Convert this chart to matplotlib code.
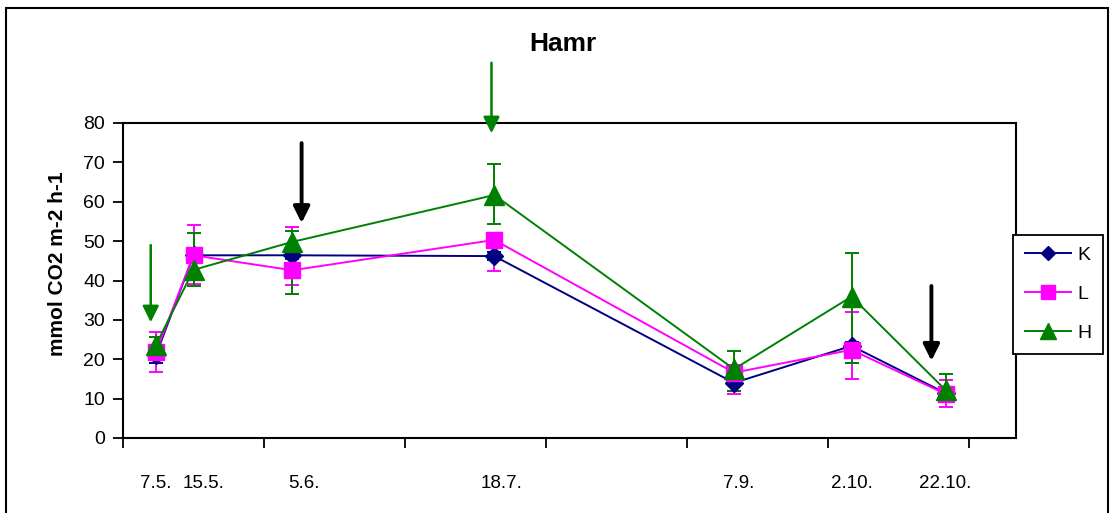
import datetime
import matplotlib
matplotlib.use('Agg')
import matplotlib.pyplot as plt
from matplotlib.patches import Rectangle

plt.rcParams['font.family'] = ['Liberation Sans', 'DejaVu Sans']

# sampling dates (day, month) and their labels
dates = [(7, 5), (15, 5), (5, 6), (18, 7), (7, 9), (2, 10), (22, 10)]
date_labels = ['7.5.', '15.5.', '5.6.', '18.7.', '7.9.', '2.10.', '22.10.']

# flux values, mmol CO2 m-2 h-1
K = [21.0, 46.4, 46.4, 46.2, 14.0, 23.4, 11.4]
L = [21.8, 46.4, 42.6, 50.3, 16.6, 22.4, 11.2]
H = [23.6, 42.7, 49.8, 61.7, 17.5, 35.9, 12.2]

# error bars (minus, plus)
K_err = [[2.0, 1.0, 1.0, 1.0, 2.0, 4.4, 1.5], [2.0, 1.0, 1.0, 1.0, 2.0, 1.0, 1.5]]
L_err = [[5.0, 7.4, 3.8, 8.0, 5.5, 7.5, 3.2], [5.0, 7.6, 10.9, 1.5, 2.0, 9.5, 3.6]]
H_err = [[2.0, 4.1, 13.3, 7.4, 5.5, 16.8, 2.0], [2.0, 9.4, 2.8, 7.8, 4.5, 11.1, 4.0]]

doy = [datetime.date(2005, m, d).timetuple().tm_yday for d, m in dates]

fig = plt.figure(figsize=(11.10, 5.13), dpi=100)
ax = fig.add_axes([123 / 1110, 75 / 513, 893 / 1110, 315 / 513])

series = [('K', K, K_err, '#000080', 'D', 9.5),
          ('L', L, L_err, '#FF00FF', 's', 12),
          ('H', H, H_err, '#008000', '^', 14)]
handles = []
for name, vals, err, col, mk, ms in series:
    c = ax.errorbar(doy, vals, yerr=err, color=col, marker=mk, markersize=ms,
                    lw=1.4, elinewidth=1.4, capsize=4.7, capthick=1.4)
    c.lines[0].set_label(name)
    handles.append(c.lines[0])

ax.set_xlim(120, 310)
ax.set_ylim(0, 80)
ax.set_yticks(range(0, 81, 10))
ax.set_xticks(range(120, 301, 30))
ax.set_xticklabels([])
label_pos = [127, 137.2, 158.5, 200.5, 251, 275, 295]
ax.set_xticks(label_pos, minor=True)
ax.set_xticklabels(date_labels, minor=True)
ax.tick_params(axis='x', which='minor', length=0, pad=27, labelsize=13.5)
ax.tick_params(axis='x', which='major', direction='out', length=7, width=1.3)
ax.tick_params(axis='y', direction='out', length=7, width=1.3, pad=6, labelsize=14)
for sp in ax.spines.values():
    sp.set_linewidth(1.5)

ax.set_ylabel('mmol CO2 m-2 h-1', fontsize=15, fontweight='bold')
ax.yaxis.set_label_coords(-0.063, 0.552)
fig.text(563 / 1110, 1 - 44 / 513, 'Hamr', fontsize=19, fontweight='bold',
         ha='center', va='center')

# arrows marking events
arrows = [(125.9, 49, 29.4, '#008000', 1.8),
          (158.0, 74.9, 54.6, 'black', 2.8),
          (198.4, 95.3, 77.4, '#008000', 1.8),
          (292.0, 38.6, 19.6, 'black', 2.8)]
for x, y0, y1, col, lw in arrows:
    ax.annotate('', xy=(x, y1), xytext=(x, y0), annotation_clip=False,
                arrowprops=dict(arrowstyle='-|>,head_length=0.7,head_width=0.35',
                                mutation_scale=14, lw=lw, color=col,
                                shrinkA=0, shrinkB=0))

leg = ax.legend(handles=handles, loc='upper left',
                bbox_to_anchor=(1013 / 1110, 1 - 235 / 513),
                bbox_transform=fig.transFigure, fontsize=14, frameon=True,
                fancybox=False, edgecolor='black', framealpha=1,
                handlelength=2.4, handletextpad=0.3, labelspacing=1.1,
                borderpad=0.6, borderaxespad=0, markerscale=0.8)
leg.get_frame().set_linewidth(1.3)
leg.set_zorder(5)

fig.patches.append(Rectangle((6 / 1110, -0.1), 1102 / 1110, 1.1 - 8 / 513,
                             transform=fig.transFigure, fill=False,
                             edgecolor='black', lw=1.5))

fig.savefig('out.png', dpi=100)
